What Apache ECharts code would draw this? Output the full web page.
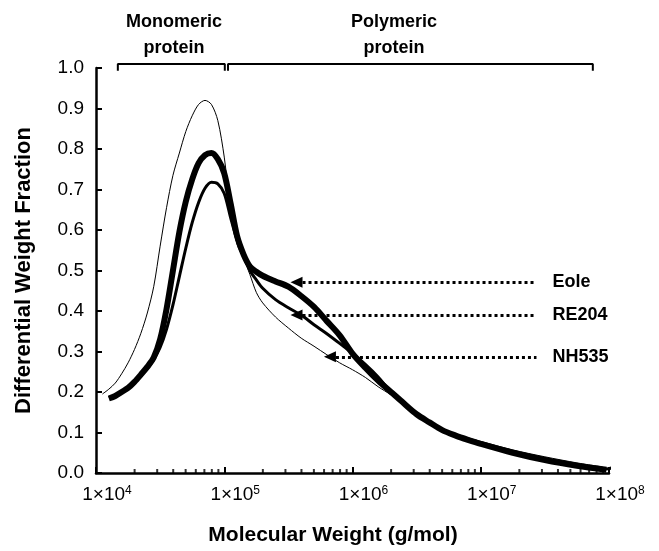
<!DOCTYPE html>
<html>
<head>
<meta charset="utf-8">
<script src="https://cdn.jsdelivr.net/npm/echarts@6/dist/echarts.min.js"></script>
<style>
  html, body { margin: 0; padding: 0; background: #fff; }
  #chart { width: 659px; height: 551px; }
</style>
</head>
<body>
<div id="chart"></div>
<script>
// molecular weight grid (g/mol) shared by the three curves
var mwGrid = [12589, 14125, 15849, 17783, 19953, 22387, 25119, 28184, 31623, 35481, 39811, 44668, 50119, 56234, 63096, 70795, 79433, 89125,
  1.0e5, 1.122e5, 1.259e5, 1.413e5, 1.585e5, 1.778e5, 1.995e5, 2.512e5, 3.162e5, 3.981e5, 5.012e5, 6.31e5, 7.943e5,
  1.0e6, 1.259e6, 1.585e6, 1.995e6, 2.512e6, 3.162e6, 3.981e6, 5.012e6, 6.31e6, 7.943e6, 1.0e7, 1.778e7, 3.162e7, 5.623e7];

// differential weight fraction
var eoleY = [0.184, 0.19, 0.2, 0.21, 0.225, 0.243, 0.262, 0.285, 0.33, 0.405, 0.5, 0.595, 0.67, 0.725, 0.765, 0.785, 0.79, 0.775,
  0.74, 0.665, 0.585, 0.54, 0.51, 0.497, 0.487, 0.473, 0.46, 0.437, 0.41, 0.375, 0.34,
  0.295, 0.26, 0.228, 0.2, 0.172, 0.145, 0.125, 0.106, 0.093, 0.082, 0.072, 0.05, 0.032, 0.018];
var re204Y = [0.186, 0.192, 0.2, 0.21, 0.224, 0.24, 0.258, 0.28, 0.31, 0.355, 0.415, 0.485, 0.555, 0.618, 0.668, 0.703, 0.718, 0.714,
  0.69, 0.63, 0.575, 0.54, 0.5, 0.477, 0.456, 0.428, 0.408, 0.39, 0.366, 0.344, 0.32,
  0.295, 0.268, 0.237, 0.2, 0.172, 0.145, 0.124, 0.105, 0.092, 0.081, 0.073, 0.053, 0.035, 0.02];
var nh535Y = [0.207, 0.222, 0.245, 0.272, 0.305, 0.345, 0.395, 0.46, 0.56, 0.655, 0.735, 0.79, 0.843, 0.882, 0.91, 0.92, 0.91, 0.87,
  0.78, 0.65, 0.565, 0.53, 0.49, 0.446, 0.42, 0.385, 0.358, 0.333, 0.313, 0.292, 0.272,
  0.255, 0.236, 0.213, 0.193, 0.17, 0.145, 0.125, 0.109, 0.097, 0.087, 0.078, 0.057, 0.04, 0.025];

// points where a curve starts before or ends after the shared grid
var nh535Head = [[11220, 0.195]];
var nh535Tail = [[8.913e7, 0.015]];
var eoleTail = [[9.55e7, 0.008]];
var re204Tail = [[9.55e7, 0.01], [1.122e8, 0.015], [1.318e8, 0.017]];

// arrows pointing from the labels to the curves
var arrowNames = ['Eole', 'RE204', 'NH535'];
var arrowTipMW = [3.66e5, 3.66e5, 6.67e5];
var arrowY = [0.471, 0.39, 0.287];
var arrowEndMW = 2.72e7;

// brackets above the plot
var monomerRange = [1.48e4, 1.01e5];
var polymerRange = [1.07e5, 7.48e7];

var xTickExponents = ['4', '5', '6', '7', '8'];
var minorMantissas = [2, 3, 4, 5, 6, 7, 8, 9];
var decades = [1e4, 1e5, 1e6, 1e7];

var FONT = '"Liberation Sans", Arial, sans-serif';

function curve(head, ys, tail) {
  var out = head.slice();
  for (var i = 0; i < mwGrid.length && i < ys.length; i++) out.push([mwGrid[i], ys[i]]);
  return out.concat(tail);
}

var minorTicks = [];
decades.forEach(function (d) {
  minorMantissas.forEach(function (m) { minorTicks.push([d * m, 0]); });
});

function bracket(range) {
  return [[range[0], 0.993], [range[0], 1.01], [range[1], 1.01], [range[1], 0.993]];
}

function arrowLine(i) {
  return {
    silent: true,
    symbol: ['triangle', 'none'],
    symbolSize: [11, 12],
    lineStyle: { color: '#000', width: 3, type: [3, 3] },
    itemStyle: { color: '#000' },
    label: {
      show: true, position: 'end', distance: 16,
      formatter: arrowNames[i],
      fontFamily: FONT, fontWeight: 'bold', fontSize: 18, color: '#000'
    },
    emphasis: { disabled: true },
    data: [[{ coord: [arrowTipMW[i], arrowY[i]] }, { coord: [arrowEndMW, arrowY[i]] }]]
  };
}

var chart = echarts.init(document.getElementById('chart'));

var option = {
  backgroundColor: '#fff',
  animation: false,
  grid: { left: 96, right: 50, top: 68, bottom: 76, containLabel: false },
  xAxis: {
    type: 'log',
    logBase: 10,
    min: 1e4,
    max: 1e8,
    name: 'Molecular Weight (g/mol)',
    nameLocation: 'middle',
    nameGap: 52,
    nameTextStyle: { fontFamily: FONT, fontWeight: 'bold', fontSize: 21, color: '#000', padding: [0, 39, 0, 0] },
    axisLine: { lineStyle: { color: '#000', width: 2.5 } },
    axisTick: { inside: true, length: 6, lineStyle: { color: '#000', width: 2 } },
    splitLine: { show: false },
    axisLabel: {
      margin: 12,
      padding: [0, 0, 0, 22],
      formatter: function (v) {
        var e = Math.round(Math.log10(v));
        return '{b|1×10}{s|' + (xTickExponents[e - 4] || e) + '}';
      },
      rich: {
        b: { fontFamily: FONT, fontSize: 19, color: '#000' },
        s: { fontFamily: FONT, fontSize: 12, color: '#000', verticalAlign: 'top', padding: [0, 0, 8, 0] }
      }
    }
  },
  yAxis: {
    type: 'value',
    min: 0,
    max: 1,
    interval: 0.1,
    name: 'Differential Weight Fraction',
    nameLocation: 'middle',
    nameGap: 61,
    nameTextStyle: { fontFamily: FONT, fontWeight: 'bold', fontSize: 22, color: '#000' },
    axisLine: { show: true, lineStyle: { color: '#000', width: 2.5 } },
    axisTick: { show: true, inside: true, length: 6, lineStyle: { color: '#000', width: 2 } },
    splitLine: { show: false },
    axisLabel: {
      margin: 12,
      fontFamily: FONT, fontSize: 19, color: '#000',
      formatter: function (v) { return v.toFixed(1); }
    }
  },
  series: [
    {
      name: 'NH535', type: 'line', data: curve(nh535Head, nh535Y, nh535Tail),
      smooth: 0.3, showSymbol: false, silent: true,
      lineStyle: { color: '#000', width: 1 },
      markLine: arrowLine(2)
    },
    {
      name: 'RE204', type: 'line', data: curve([], re204Y, re204Tail),
      smooth: 0.3, showSymbol: false, silent: true, clip: false,
      lineStyle: { color: '#000', width: 3 },
      markLine: arrowLine(1)
    },
    {
      name: 'Eole', type: 'line', data: curve([], eoleY, eoleTail),
      smooth: 0.3, showSymbol: false, silent: true,
      lineStyle: { color: '#000', width: 6 },
      markLine: arrowLine(0)
    },
    {
      name: 'minor', type: 'scatter', data: minorTicks, silent: true,
      symbol: 'rect', symbolSize: [2, 4], symbolOffset: [0, -2],
      itemStyle: { color: '#000' }, z: 5
    },
    {
      name: 'monomer', type: 'line', data: bracket(monomerRange), clip: false,
      showSymbol: false, silent: true, lineStyle: { color: '#000', width: 2 }
    },
    {
      name: 'polymer', type: 'line', data: bracket(polymerRange), clip: false,
      showSymbol: false, silent: true, lineStyle: { color: '#000', width: 2 }
    }
  ],
  graphic: [
    {
      type: 'text', x: 174, y: 9,
      style: {
        text: 'Monomeric\nprotein', textAlign: 'center', textVerticalAlign: 'top',
        font: 'bold 18px ' + FONT, fill: '#000', lineHeight: 26
      }
    },
    {
      type: 'text', x: 394, y: 9,
      style: {
        text: 'Polymeric\nprotein', textAlign: 'center', textVerticalAlign: 'top',
        font: 'bold 18px ' + FONT, fill: '#000', lineHeight: 26
      }
    }
  ]
};

chart.setOption(option);
</script>
</body>
</html>
